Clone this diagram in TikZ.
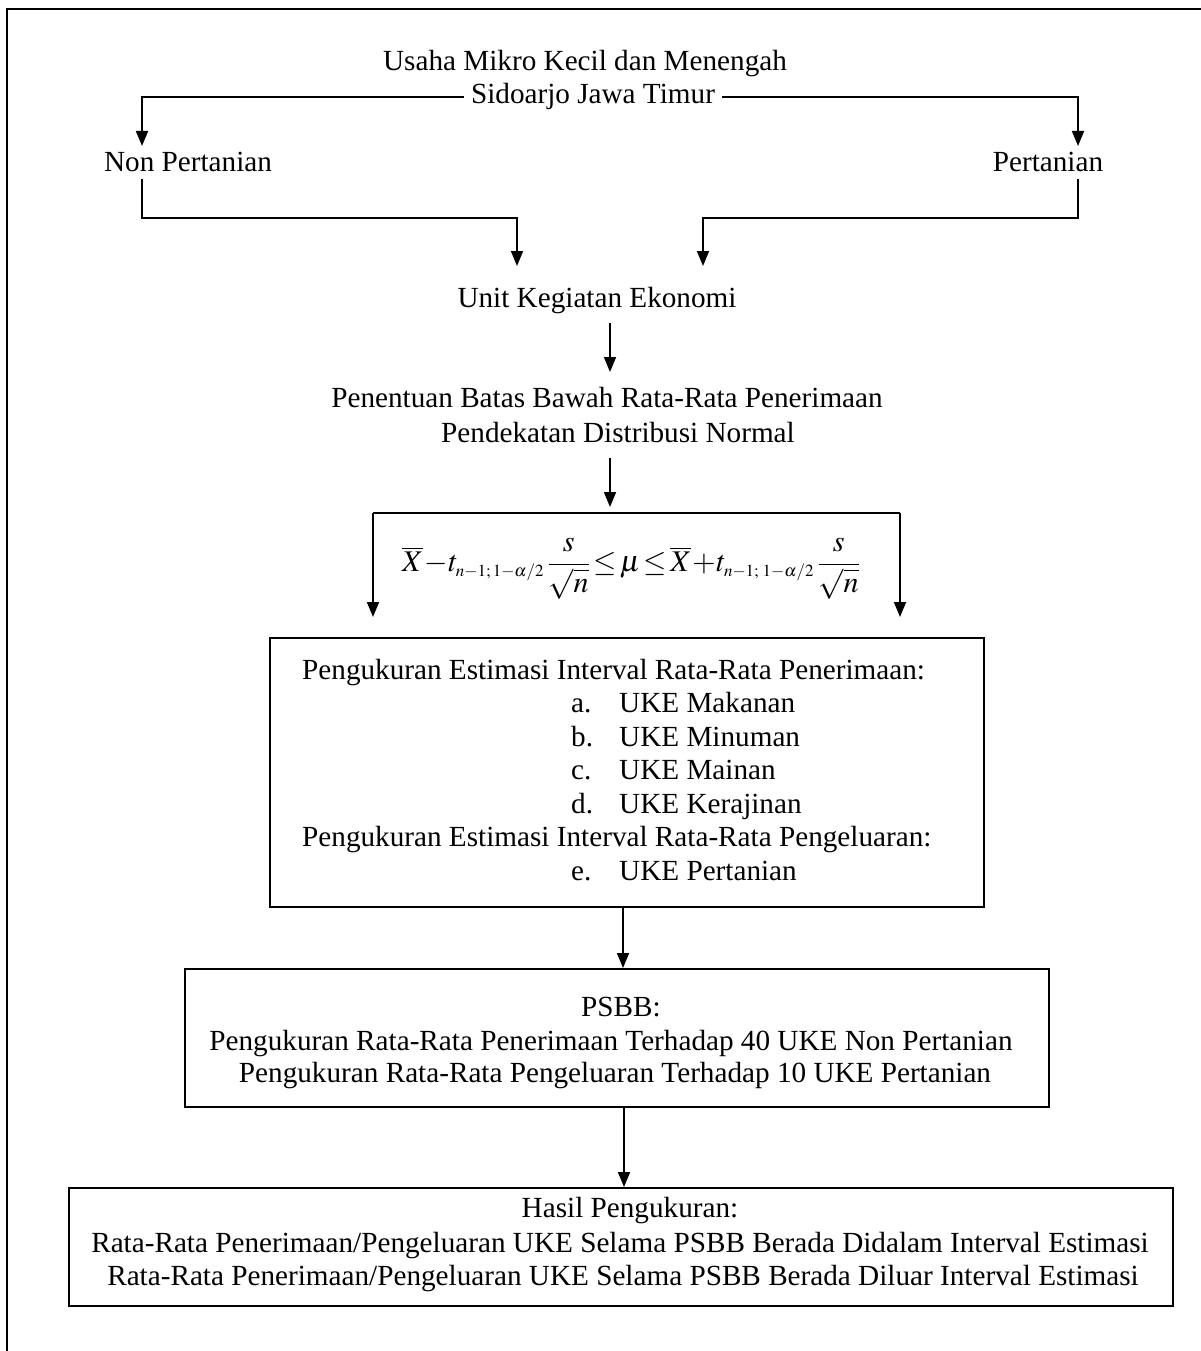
\documentclass[tikz,border=0pt]{standalone}
\usepackage{mathptmx}
\usepackage{fontspec}
\setmainfont{Liberation Serif}
\usetikzlibrary{arrows.meta}
\newcommand\myfs{\fontsize{29.2}{33.5}\selectfont}
\newcommand\mysub[1]{\mbox{\fontsize{17}{17}\selectfont$#1$}}
\begin{document}
\begin{tikzpicture}[x=1pt,y=-1pt,
  txt/.style={font=\myfs, inner sep=0pt, text height=20pt, text depth=6pt},
  boxnode/.style={draw, line width=2pt, inner sep=0pt},
  arr/.style={line width=1.7pt, -{Triangle[length=15pt,width=12pt]}},
  plain/.style={line width=1.7pt}]
\useasboundingbox (0,0) rectangle (1201,1351);
% frame
\draw[line width=2pt] (1202,9) -- (7,9) -- (7,1352);

% top texts
\node[txt] (usaha) at (585,64) {Usaha Mikro Kecil dan Menengah};
\node[txt, inner xsep=7pt] (sid) at (593,97) {Sidoarjo Jawa Timur};
\node[txt] (nonp) at (188,165) {Non Pertanian};
\node[txt] (pert) at (1048,165) {Pertanian};
\node[txt] (uke) at (597,300) {Unit Kegiatan Ekonomi};
\node[txt] (pen1) at (607,400) {Penentuan Batas Bawah Rata-Rata Penerimaan};
\node[txt] (pen2) at (618,435) {Pendekatan Distribusi Normal};
\node[inner sep=0pt] (form) at (631,569) {\fontsize{30}{36}\selectfont
  $\displaystyle \overline{X}\!-\!t_{\mysub{n{-}1;1{-}\alpha/2}}\,\frac{s}{\sqrt{n}}\!\le\!\mu\!\le\!\overline{X}\!+\!t_{\mysub{n{-}1;\,1{-}\alpha/2}}\,\frac{s}{\sqrt{n}}$};

% coordinates
\coordinate (tl) at (142,146);
\coordinate (tr) at (1078,146);
\coordinate (bl0) at (142,179);
\coordinate (br0) at (1078,179);
\coordinate (jl) at (517,218);
\coordinate (jr) at (703,218);
\coordinate (jlt) at (517,266);
\coordinate (jrt) at (703,266);
\coordinate (u1) at (610,323);
\coordinate (u2) at (610,372);
\coordinate (p1) at (610,458);
\coordinate (p2) at (610,507);
\coordinate (hl) at (373,513);
\coordinate (hr) at (900,513);
\coordinate (fl) at (373,617);
\coordinate (fr) at (900,617);
\coordinate (m1) at (623,0);
\coordinate (m2) at (624,0);

% boxes
\node[boxnode, minimum width=714pt, minimum height=269pt] (box1) at (627,772.5) {};
\node[txt, anchor=west] (l1) at (302,672) {Pengukuran Estimasi Interval Rata-Rata Penerimaan:};
\node[txt, anchor=west] (la) at (571,705.5) {a.};
\node[txt, anchor=west] (ia) at (619,705.5) {UKE Makanan};
\node[txt, anchor=west] (lb) at (571,739) {b.};
\node[txt, anchor=west] (ib) at (619,739) {UKE Minuman};
\node[txt, anchor=west] (lc) at (571,772.5) {c.};
\node[txt, anchor=west] (ic) at (619,772.5) {UKE Mainan};
\node[txt, anchor=west] (ld) at (571,806) {d.};
\node[txt, anchor=west] (id) at (619,806) {UKE Kerajinan};
\node[txt, anchor=west] (l2) at (302,839.5) {Pengukuran Estimasi Interval Rata-Rata Pengeluaran:};
\node[txt, anchor=west] (le) at (571,873) {e.};
\node[txt, anchor=west] (ie) at (619,873) {UKE Pertanian};

\node[boxnode, minimum width=864pt, minimum height=138pt] (psbb) at (617,1038) {};
\node[txt] (ps0) at (621,1009) {PSBB:};
\node[txt] (ps1) at (611,1043) {Pengukuran Rata-Rata Penerimaan Terhadap 40 UKE Non Pertanian};
\node[txt] (ps2) at (615,1075) {Pengukuran Rata-Rata Pengeluaran Terhadap 10 UKE Pertanian};

\node[boxnode, minimum width=1104pt, minimum height=118pt] (hasil) at (621,1247) {};
\node[txt] (h0) at (630,1210) {Hasil Pengukuran:};
\node[txt] (h1) at (620,1245) {Rata-Rata Penerimaan/Pengeluaran UKE Selama PSBB Berada Didalam Interval Estimasi};
\node[txt] (h2) at (623,1278) {Rata-Rata Penerimaan/Pengeluaran UKE Selama PSBB Berada Diluar Interval Estimasi};

% connectors
\draw[arr] (sid.west) -| (tl);
\draw[arr] (sid.east) -| (tr);
\draw[arr] (bl0) |- (jl) -- (jlt);
\draw[arr] (br0) |- (jr) -- (jrt);
\draw[arr] (u1) -- (u2);
\draw[arr] (p1) -- (p2);
\draw[plain] (hl) -- (hr);
\draw[arr] (hl) -- (fl);
\draw[arr] (hr) -- (fr);
\draw[arr] (box1.south -| m1) -- (psbb.north -| m1);
\draw[arr] (psbb.south -| m2) -- (hasil.north -| m2);
\end{tikzpicture}
\end{document}
